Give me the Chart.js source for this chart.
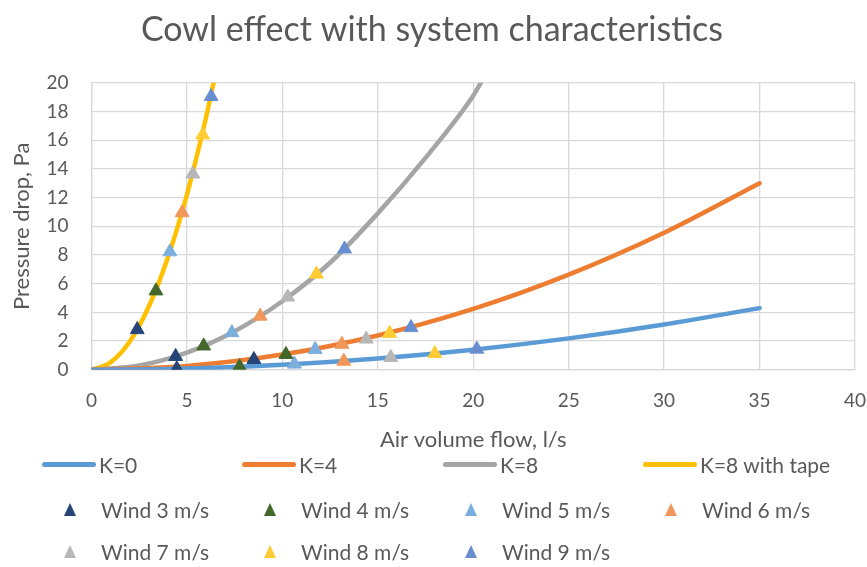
<!DOCTYPE html>
<html>
<head>
<meta charset="utf-8">
<script src="https://cdn.jsdelivr.net/npm/chart.js@4/dist/chart.umd.min.js"></script>
<style>
  body { margin: 0; background: #fff; }
  #wrap { position: relative; width: 867px; height: 567px; }
  #legend { position: absolute; left: 0; top: 0; width: 867px; height: 567px; pointer-events: none;
            font-family: Lato, "Open Sans", sans-serif; font-size: 21px; color: #595959; }
  .item { position: absolute; height: 24px; line-height: 24px; white-space: nowrap; }
  .swatch { position: absolute; top: 9px; width: 54px; height: 5px; border-radius: 3px; }
  .tri { position: absolute; top: 5px; width: 0; height: 0; border-left: 6px solid transparent; border-right: 6px solid transparent; border-bottom: 13px solid; }
</style>
</head>
<body>
<div id="wrap">
  <canvas id="CowlChart" width="867" height="567"></canvas>
  <div id="legend"></div>
</div>
<script>
// System curves: pressure drop vs flow for each cowl setup
var curveNames = ['K=0', 'K=4', 'K=8', 'K=8 with tape'];
var curveColors = ['#5b9bd5', '#ed7d31', '#a5a5a5', '#ffc000'];
var flowK0 = [0, 5, 10, 15, 20, 25, 30, 35];
var dpK0 = [0, 0.09, 0.35, 0.79, 1.40, 2.19, 3.16, 4.30];
var flowK4 = [0, 5, 10, 15, 20, 25, 30, 35];
var dpK4 = [0, 0.27, 1.06, 2.39, 4.24, 6.63, 9.55, 13.0];
var flowK8 = [0, 2.5, 5, 7.5, 10, 12.5, 15, 17.5, 20, 20.4];
var dpK8 = [0, 0.30, 1.20, 2.69, 4.78, 7.46, 10.9, 14.77, 19.1, 20.0];
var flowTape = [0, 1, 2, 3, 4, 5, 6, 6.4];
var dpTape = [0, 0.52, 1.95, 4.39, 7.81, 12.2, 17.57, 20.0];

// Operating points for each wind speed (one per curve, order K=0, K=4, K=8, tape)
var windLabels = ['Wind 3 m/s', 'Wind 4 m/s', 'Wind 5 m/s', 'Wind 6 m/s', 'Wind 7 m/s', 'Wind 8 m/s', 'Wind 9 m/s'];
var windColors = ['#264478', '#43682b', '#7cafdd', '#f1975a', '#b7b7b7', '#ffcd33', '#698ed0'];
var windFlowK0 = [4.47, 7.76, 10.63, 13.22, 15.68, 17.99, 20.19];
var windDpK0 = [0.07, 0.22, 0.40, 0.60, 0.86, 1.13, 1.44];
var windFlowK4 = [8.51, 10.19, 11.72, 13.12, 14.40, 15.62, 16.74];
var windDpK4 = [0.72, 1.07, 1.42, 1.78, 2.14, 2.54, 2.94];
var windFlowK8 = [4.41, 5.88, 7.36, 8.84, 10.28, 11.79, 13.26];
var windDpK8 = [0.93, 1.66, 2.59, 3.74, 5.07, 6.67, 8.42];
var windFlowTape = [2.40, 3.38, 4.11, 4.75, 5.31, 5.83, 6.27];
var windDpTape = [2.80, 5.50, 8.22, 10.95, 13.65, 16.37, 19.05];

function pairs(xs, ys) {
    return xs.map(function (x, i) { return { x: x, y: ys[i] }; });
}

var curveFlows = [flowK0, flowK4, flowK8, flowTape];
var curveDps = [dpK0, dpK4, dpK8, dpTape];
var windFlows = [windFlowK0, windFlowK4, windFlowK8, windFlowTape];
var windDps = [windDpK0, windDpK4, windDpK8, windDpTape];

var datasets = [];
curveNames.forEach(function (name, i) {
    datasets.push({
        label: name,
        data: pairs(curveFlows[i], curveDps[i]),
        showLine: true,
        borderColor: curveColors[i],
        backgroundColor: curveColors[i],
        borderWidth: 4.5,
        borderCapStyle: 'round',
        pointRadius: 0,
        cubicInterpolationMode: 'monotone',
        order: 1
    });
});
windLabels.forEach(function (name, w) {
    var xs = windFlows.map(function (f) { return f[w]; });
    var ys = windDps.map(function (d) { return d[w]; });
    datasets.push({
        label: name,
        data: pairs(xs, ys),
        showLine: false,
        pointStyle: 'triangle',
        pointRadius: 8,
        pointBorderWidth: 1,
        pointBackgroundColor: windColors[w],
        pointBorderColor: windColors[w],
        order: 0
    });
});

var GREY = '#595959';
var FONT = 'Lato, "Open Sans", sans-serif';

new Chart(document.getElementById('CowlChart'), {
    type: 'scatter',
    data: { datasets: datasets },
    options: {
        responsive: false,
        animation: false,
        layout: { padding: { left: 9, right: 12, top: 0, bottom: 114 } },
        scales: {
            x: {
                type: 'linear', min: 0, max: 40,
                ticks: { stepSize: 5, color: GREY, font: { family: FONT, size: 19 }, padding: 20 },
                grid: { color: '#d9d9d9', lineWidth: 1.3, drawTicks: false },
                border: { color: '#d9d9d9', width: 1.3 },
                title: { display: true, text: 'Air volume flow, l/s', color: GREY, font: { family: FONT, size: 22 }, padding: { top: -6, bottom: 0 } },
                // tick padding would otherwise widen the gap after the "40" label
                afterFit: function (scale) { scale.paddingRight = 2; }
            },
            y: {
                min: 0, max: 20,
                ticks: { stepSize: 2, color: GREY, font: { family: FONT, size: 19 }, padding: 23 },
                grid: { color: '#d9d9d9', lineWidth: 1.3, drawTicks: false },
                border: { color: '#d9d9d9', width: 1.3 },
                title: { display: true, text: 'Pressure drop, Pa', color: GREY, font: { family: FONT, size: 22 }, padding: { top: 0, bottom: -12 } }
            }
        },
        plugins: {
            legend: { display: false },
            tooltip: { enabled: false },
            title: {
                display: true,
                text: 'Cowl effect with system characteristics',
                color: GREY,
                font: { family: FONT, size: 34, weight: 'normal' },
                padding: { top: 10, bottom: 32 }
            }
        }
    }
});

// Legend: line swatches on the first row, triangle markers below
var legend = document.getElementById('legend');
var colX = [42, 242, 443, 643];
curveNames.forEach(function (name, i) {
    var el = document.createElement('div');
    el.className = 'item';
    el.style.left = colX[i] + 'px';
    el.style.top = '453px';
    el.innerHTML = '<span class="swatch" style="background:' + curveColors[i] + '"></span>' +
        '<span style="margin-left:57px">' + name + '</span>';
    legend.appendChild(el);
});
windLabels.forEach(function (name, w) {
    var el = document.createElement('div');
    el.className = 'item';
    el.style.left = (colX[w % 4] + 22) + 'px';
    el.style.top = (w < 4 ? 498 : 540) + 'px';
    el.innerHTML = '<span class="tri" style="border-bottom-color:' + windColors[w] + '"></span>' +
        '<span style="margin-left:37px">' + name + '</span>';
    legend.appendChild(el);
});
</script>
</body>
</html>
